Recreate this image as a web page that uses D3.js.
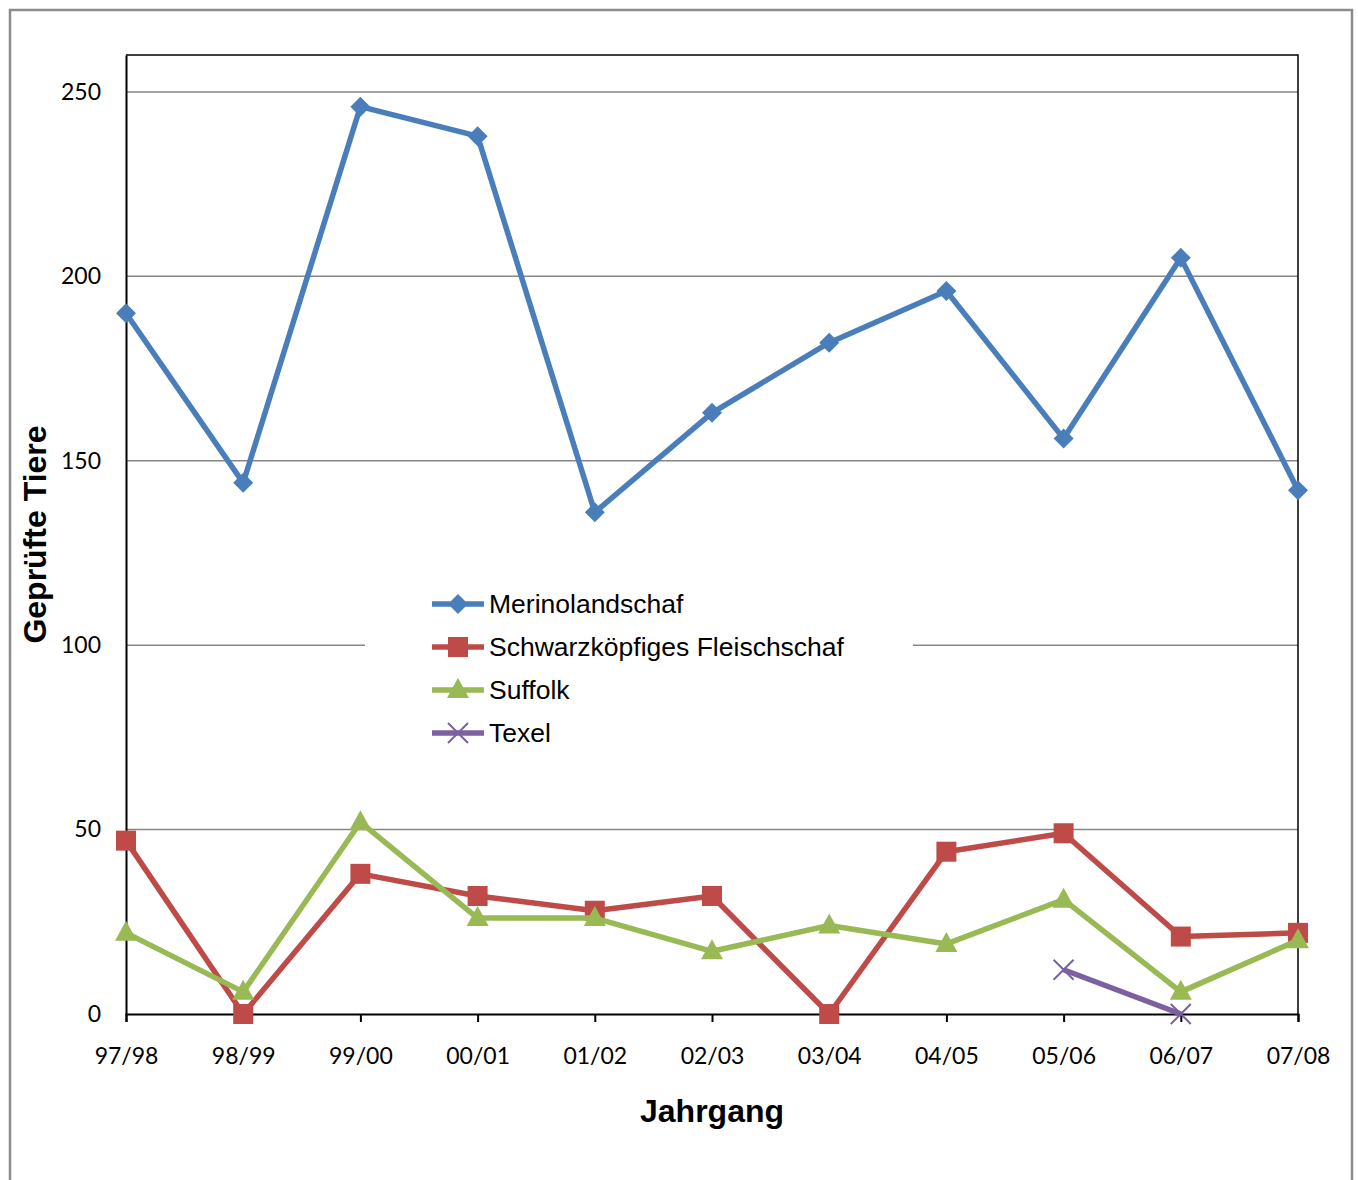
<!DOCTYPE html>
<html>
<head>
<meta charset="utf-8">
<script src="https://cdn.jsdelivr.net/npm/d3@7"></script>
<style>
  body { margin: 0; background: #fff; }
  svg { display: block; }
</style>
</head>
<body>
<div id="vis"></div>
<script>
// chart data
const YEARS = ['97/98', '98/99', '99/00', '00/01', '01/02', '02/03', '03/04', '04/05', '05/06', '06/07', '07/08'];
const MERINO = [190, 144, 246, 238, 136, 163, 182, 196, 156, 205, 142];
const SCHWARZ = [47, 0, 38, 32, 28, 32, 0, 44, 49, 21, 22];
const SUFFOLK = [22, 6, 52, 26, 26, 17, 24, 19, 31, 6, 20];
const TEXEL = [null, null, null, null, null, null, null, null, 12, 0, null];
const Y_TICKS = [0, 50, 100, 150, 200, 250];

const SERIES = [
    {name: 'Merinolandschaf', values: MERINO, color: '#4A7EBB', marker: 'diamond'},
    {name: 'Schwarzköpfiges Fleischschaf', values: SCHWARZ, color: '#BE4B48', marker: 'square'},
    {name: 'Suffolk', values: SUFFOLK, color: '#98B954', marker: 'triangle'},
    {name: 'Texel', values: TEXEL, color: '#7D60A0', marker: 'x'}
];

const FRAME_WIDTH = 1358;
const FRAME_HEIGHT = 1180;
const MARGINS = {left: 126, right: 60, top: 55, bottom: 166};
const VIS_WIDTH = FRAME_WIDTH - MARGINS.left - MARGINS.right;
const VIS_HEIGHT = FRAME_HEIGHT - MARGINS.top - MARGINS.bottom;

const FRAME = d3.select('#vis')
    .append('svg')
    .attr('width', FRAME_WIDTH)
    .attr('height', FRAME_HEIGHT);

// outer chart border
FRAME.append('rect')
    .attr('x', 10).attr('y', 10)
    .attr('width', 1342).attr('height', 1190)
    .attr('fill', 'none')
    .attr('stroke', '#8c8c8c')
    .attr('stroke-width', 2.5);

const X_SCALE = d3.scalePoint()
    .domain(YEARS)
    .range([0, VIS_WIDTH]);

const Y_SCALE = d3.scaleLinear()
    .domain([0, 260])
    .range([VIS_HEIGHT, 0]);

const G = FRAME.append('g')
    .attr('transform', 'translate(' + MARGINS.left + ',' + MARGINS.top + ')');

// gridlines
G.append('g')
    .selectAll('line')
    .data(Y_TICKS.filter(d => d > 0))
    .enter()
    .append('line')
    .attr('x1', 0).attr('x2', VIS_WIDTH)
    .attr('y1', d => Y_SCALE(d)).attr('y2', d => Y_SCALE(d))
    .attr('stroke', '#868686')
    .attr('stroke-width', 1.5);

// plot area border (top and right)
G.append('path')
    .attr('d', 'M0,0H' + VIS_WIDTH + 'V' + VIS_HEIGHT)
    .attr('fill', 'none')
    .attr('stroke', '#000')
    .attr('stroke-width', 1.5);

// y axis
const yAxis = G.append('g')
    .call(d3.axisLeft(Y_SCALE).tickValues(Y_TICKS).tickSize(0).tickPadding(25));
yAxis.select('.domain').attr('stroke', '#000').attr('stroke-width', 2);
yAxis.selectAll('text')
    .attr('font-family', 'Lato, "Open Sans", sans-serif')
    .attr('font-size', '23px')
    .attr('fill', '#000');

// x axis
const xAxis = G.append('g')
    .attr('transform', 'translate(0,' + VIS_HEIGHT + ')')
    .call(d3.axisBottom(X_SCALE).tickSize(8).tickPadding(26));
xAxis.select('.domain').attr('stroke', '#000').attr('stroke-width', 2);
xAxis.selectAll('line').attr('stroke', '#000').attr('stroke-width', 2);
xAxis.selectAll('text')
    .attr('font-family', 'Lato, "Open Sans", sans-serif')
    .attr('font-size', '23px')
    .attr('fill', '#000');

// axis titles
FRAME.append('text')
    .attr('x', MARGINS.left + VIS_WIDTH / 2)
    .attr('y', 1122)
    .attr('text-anchor', 'middle')
    .attr('font-family', 'Arial, "Liberation Sans", sans-serif')
    .attr('font-weight', 'bold')
    .attr('font-size', '32px')
    .text('Jahrgang');

FRAME.append('text')
    .attr('transform', 'translate(46,' + (MARGINS.top + Y_SCALE(130)) + ') rotate(-90)')
    .attr('text-anchor', 'middle')
    .attr('font-family', 'Arial, "Liberation Sans", sans-serif')
    .attr('font-weight', 'bold')
    .attr('font-size', '32px')
    .text('Geprüfte Tiere');

// marker drawing helper
function drawMarker(sel, type, color) {
    if (type === 'diamond') {
        sel.append('path').attr('d', 'M0,-10L10,0L0,10L-10,0Z').attr('fill', color);
    } else if (type === 'square') {
        sel.append('rect').attr('x', -10).attr('y', -10).attr('width', 20).attr('height', 20).attr('fill', color);
    } else if (type === 'triangle') {
        sel.append('path').attr('d', 'M0,-12L11,8L-11,8Z').attr('fill', color);
    } else {
        sel.append('path').attr('d', 'M-10,-10L10,10M-10,10L10,-10')
            .attr('stroke', color).attr('stroke-width', 2).attr('fill', 'none');
    }
}

const LINE = d3.line()
    .defined(d => d.v !== null)
    .x(d => X_SCALE(d.year))
    .y(d => Y_SCALE(d.v));

// series lines and markers
SERIES.forEach((s) => {
    const pts = s.values.map((v, i) => ({year: YEARS[i], v: v}));
    G.append('path')
        .datum(pts)
        .attr('d', LINE)
        .attr('fill', 'none')
        .attr('stroke', s.color)
        .attr('stroke-width', 5.5)
        .attr('stroke-linejoin', 'round');
    G.selectAll('.m-' + s.marker)
        .data(pts.filter(d => d.v !== null))
        .enter()
        .append('g')
        .attr('class', 'm-' + s.marker)
        .attr('transform', d => 'translate(' + X_SCALE(d.year) + ',' + Y_SCALE(d.v) + ')')
        .each(function() { drawMarker(d3.select(this), s.marker, s.color); });
});

// legend
const LEGEND = FRAME.append('g');
LEGEND.append('rect')
    .attr('x', 365).attr('y', 578)
    .attr('width', 548).attr('height', 180)
    .attr('fill', '#fff');
SERIES.forEach((s, i) => {
    const row = LEGEND.append('g')
        .attr('transform', 'translate(0,' + (604 + i * 43) + ')');
    row.append('line')
        .attr('x1', 432).attr('x2', 484)
        .attr('stroke', s.color).attr('stroke-width', 5.5);
    drawMarker(row.append('g').attr('transform', 'translate(458,0)'), s.marker, s.color);
    row.append('text')
        .attr('x', 489).attr('y', 9)
        .attr('font-family', 'Arial, "Liberation Sans", sans-serif')
        .attr('font-size', '26.5px')
        .text(s.name);
});
</script>
</body>
</html>
